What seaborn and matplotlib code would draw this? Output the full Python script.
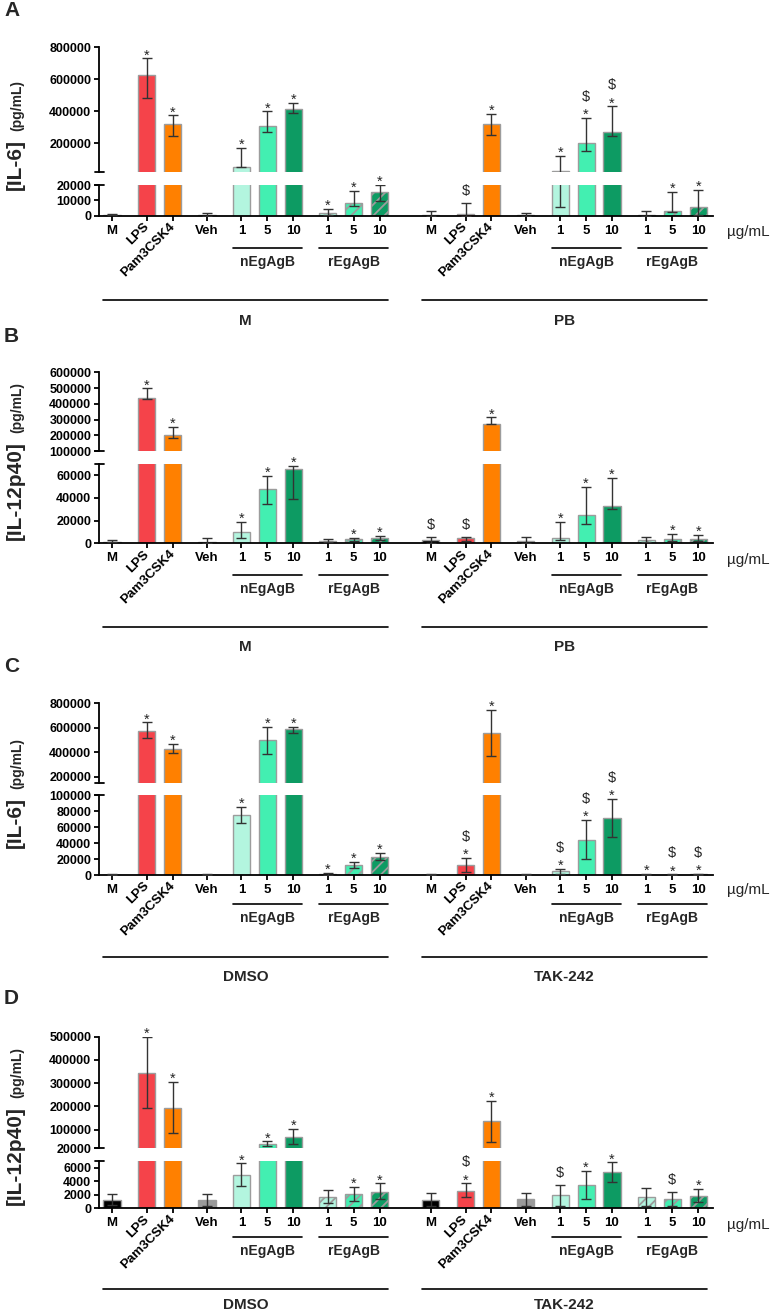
import matplotlib
matplotlib.use("Agg")
import numpy as np
import pandas as pd
import matplotlib.pyplot as plt
import matplotlib.transforms as mtransforms
from matplotlib.lines import Line2D
import seaborn as sns

# ---- categories ----
treatments = ["M", "LPS", "Pam3CSK4", "Veh", "1", "5", "10", "1", "5", "10"]
bar_colors = ["#000000", "#F5434A", "#FF8000", "#9A9A9A",
              "#B3F5DF", "#43EFB1", "#0D9B63", "#B3F5DF", "#43EFB1", "#0D9B63"]
hatched = [False] * 7 + [True] * 3

# ---- panel A : IL-6, M | PB ----
a_groups = ["M", "PB"]
a_mean = [600, 623000, 317000, 500, 50000, 308000, 412000, 1600, 8100, 15700,
          600, 1300, 321000, 400, 25000, 198000, 269000, 700, 3300, 5500]
a_low = [200, 481000, 244000, 0, 50000, 269000, 389000, 500, 6300, 9400,
         0, 0, 250000, 0, 5900, 150000, 242000, 0, 2200, 500]
a_high = [1000, 729000, 373000, 1600, 171000, 398000, 452000, 4400, 16300, 19900,
          3100, 8100, 381000, 1600, 121000, 360000, 429000, 3100, 15700, 17000]
a_sig = ["", "*", "*", "", "*", "*", "*", "*", "*", "*",
         "", "$", "*", "", "*", "*$", "*$", "", "*", "*"]

# ---- panel B : IL-12p40, M | PB ----
b_groups = ["M", "PB"]
b_mean = [1500, 435000, 200000, 1500, 10000, 47600, 65900, 2000, 3500, 4400,
          2700, 4400, 273500, 2000, 4400, 25100, 33100, 2900, 3500, 3500]
b_low = [800, 428000, 183000, 500, 4700, 34900, 38700, 1000, 2000, 2500,
         0, 2300, 270000, 500, 3200, 17100, 30000, 1000, 2300, 2000]
b_high = [2800, 498000, 254000, 4400, 19200, 59700, 68000, 4100, 5000, 6500,
          5600, 5300, 314000, 5900, 19200, 49700, 57700, 5900, 8000, 7100]
b_sig = ["", "*", "*", "", "*", "*", "*", "", "*", "*",
         "$", "$", "*", "", "*", "*", "*", "", "*", "*"]

# ---- panel C : IL-6, DMSO | TAK-242 ----
c_groups = ["DMSO", "TAK-242"]
c_mean = [500, 575000, 428000, 500, 75000, 499000, 587000, 1200, 12500, 22900,
          500, 12100, 554000, 500, 4600, 44200, 71700, 600, 400, 900]
c_low = [300, 513000, 390000, 300, 64600, 384000, 559000, 500, 8300, 18700,
         300, 4200, 371000, 300, 1250, 20000, 47900, 300, 200, 500]
c_high = [800, 644000, 469000, 800, 85400, 608000, 608000, 2500, 16700, 27900,
          800, 21200, 745000, 800, 7900, 68700, 95400, 1000, 700, 1500]
c_sig = ["", "*", "*", "", "*", "*", "*", "*", "*", "*",
         "", "*$", "*", "", "*$", "*$", "*$", "*", "*$", "*$"]

# ---- panel D : IL-12p40, DMSO | TAK-242 ----
d_groups = ["DMSO", "TAK-242"]
d_mean = [1230, 345500, 192700, 1230, 4920, 38200, 68200, 1720, 2070, 2450,
          1230, 2600, 137000, 1330, 1920, 3400, 5320, 1720, 1330, 1770]
d_low = [500, 195000, 83700, 400, 3300, 31000, 39500, 830, 1030, 1330,
         400, 1630, 48000, 400, 400, 1420, 3840, 400, 400, 890]
d_high = [2070, 499000, 304000, 2070, 6650, 49300, 102600, 2700, 3190, 3700,
          2300, 3700, 225300, 2220, 3490, 5510, 6800, 3000, 2360, 2900]
d_sig = ["", "*", "*", "", "*", "*", "*", "", "*", "*",
         "", "*$", "*", "", "$", "*", "*", "", "$", "*"]

# ---- layout (pixels of the 780 x 1314 canvas) ----
W, H = 780, 1314
X0, X1 = 99, 713
slot = [0, 1.35, 2.35, 3.67, 5.0, 6.0, 7.0, 8.33, 9.33, 10.33]
GROUP_SHIFT = 12.3
pos = np.array(slot + [s + GROUP_SHIFT for s in slot])
XLIM = (-0.5, 23.2)
BAR_W = 0.66
EDGE = "#9c9c9c"

sns.set_theme(style="ticks", rc={
    "axes.linewidth": 1.3, "axes.edgecolor": "black",
    "xtick.major.width": 1.3, "ytick.major.width": 1.3,
    "xtick.major.size": 3.5, "ytick.major.size": 3.5,
    "xtick.color": "black", "ytick.color": "black",
    "hatch.linewidth": 1.3,
})
plt.rcParams["font.family"] = ["Liberation Sans", "DejaVu Sans"]

fig = plt.figure(figsize=(W / 100, H / 100), dpi=100)


def fy(y_px):
    return 1 - y_px / H


def px_axes(top, bottom):
    return fig.add_axes([X0 / W, fy(bottom), (X1 - X0) / W, (bottom - top) / H])


def draw_bars(ax, mean, low, high, floor):
    df = pd.DataFrame({"pos": pos, "value": mean})
    sns.barplot(data=df, x="pos", y="value", native_scale=True, width=BAR_W,
                color="white", errorbar=None, ax=ax)
    for patch, c, h in zip(ax.patches, bar_colors * 2, hatched * 2):
        patch.set_facecolor(c)
        patch.set_edgecolor(EDGE)
        patch.set_linewidth(1.0)
        if h:
            patch.set_hatch("///")
    mean = np.asarray(mean, dtype=float)
    low = np.asarray(low, dtype=float)
    high = np.asarray(high, dtype=float)
    keep = high > floor   # skip whiskers that never reach this axis segment
    yerr = [mean[keep] - low[keep], high[keep] - mean[keep]]
    ax.errorbar(pos[keep], mean[keep], yerr=yerr, fmt="none", ecolor="#333333",
                elinewidth=1.0, capsize=3.6, capthick=1.0, zorder=3)
    ax.set_xlim(XLIM)
    ax.set_xlabel("")
    ax.set_ylabel("")


def mark(ax, x, y, s):
    items = {"*": [("*", -1)], "$": [("$", 8)], "*$": [("*", -1), ("$", 17)]}
    for sym, dy in items[s]:
        ax.annotate(sym, (x, y), xytext=(0, dy), textcoords="offset pixels",
                    ha="center", va="baseline", fontsize=10.5,
                    annotation_clip=False)


def draw_panel(p):
    ax_top = px_axes(*p["top_px"])
    ax_bot = px_axes(*p["bot_px"])
    draw_bars(ax_top, p["mean"], p["low"], p["high"], p["top_lim"][0])
    draw_bars(ax_bot, p["mean"], p["low"], p["high"], -1)

    ax_top.set_ylim(p["top_lim"])
    ax_top.set_yticks(p["top_ticks"])
    ax_top.set_yticklabels([f"{t:d}" for t in p["top_ticks"]],
                           fontsize=9, fontweight="bold")
    ax_bot.set_ylim(p["bot_lim"])
    ax_bot.set_yticks(p["bot_ticks"])
    ax_bot.set_yticklabels([f"{t:d}" for t in p["bot_ticks"]],
                           fontsize=9, fontweight="bold")
    ax_top.tick_params(axis="y", pad=2)
    ax_bot.tick_params(axis="y", pad=2)

    sns.despine(ax=ax_top, bottom=True)
    ax_top.tick_params(axis="x", bottom=False, labelbottom=False)
    sns.despine(ax=ax_bot)

    ax_bot.set_xticks(pos)
    ax_bot.set_xticklabels(treatments * 2, fontsize=9.5, fontweight="bold")
    ax_bot.tick_params(axis="x", pad=3)
    for i, lbl in enumerate(ax_bot.get_xticklabels()):
        if treatments[i % 10] in ("LPS", "Pam3CSK4"):
            lbl.set_rotation(45)
            lbl.set_rotation_mode("anchor")
            lbl.set_ha("right")
            lbl.set_va("center")

    # break marks on the y axis
    for y_px in (p["top_px"][1], p["bot_px"][0]):
        fig.add_artist(Line2D([(X0 - 4.5) / W, (X0 + 4.5) / W], [fy(y_px)] * 2,
                              transform=fig.transFigure, color="black", lw=1.3))

    # significance marks
    split = p["bot_lim"][1]
    for x, hi, s in zip(pos, p["high"], p["sig"]):
        if s:
            mark(ax_top if hi > split else ax_bot, x, hi, s)

    # group brackets under the axis
    trans = mtransforms.blended_transform_factory(ax_bot.transData, fig.transFigure)
    half = BAR_W / 2
    for g, name in enumerate(p["groups"]):
        off = g * 10
        for first, label in ((4, "nEgAgB"), (7, "rEgAgB")):
            x0, x1 = pos[off + first] - half, pos[off + first + 2] + half
            fig.add_artist(Line2D([x0, x1], [fy(p["short_y"])] * 2,
                                  transform=trans, color="black", lw=1.2))
            ax_bot.text(pos[off + first + 1], fy(p["short_y"] + 14), label,
                        transform=trans, ha="center", va="center",
                        fontsize=10, fontweight="bold")
        x0, x1 = pos[off] - half, pos[off + 9] + half
        fig.add_artist(Line2D([x0, x1], [fy(p["long_y"])] * 2,
                              transform=trans, color="black", lw=1.2))
        ax_bot.text((x0 + x1) / 2, fy(p["long_y"] + p["name_dy"]), name,
                    transform=trans, ha="center", va="center",
                    fontsize=11, fontweight="bold")

    fig.text(727 / W, fy(p["unit_y"]), "\u00b5g/mL", ha="left", va="center",
             fontsize=11)
    fig.text(4 / W, fy(p["letter_y"]), p["letter"], ha="left", va="center",
             fontsize=15, fontweight="bold")

    # y label: big cytokine name + smaller unit
    t1 = fig.text(21 / W, fy(p["ylab_y"]), p["ylabel"], rotation=90,
                  rotation_mode="anchor", ha="left", va="baseline",
                  fontsize=15, fontweight="bold")
    bb = t1.get_window_extent(fig.canvas.get_renderer())
    fig.text(21 / W, (bb.y1 + 8) / H, "(pg/mL)", rotation=90,
             rotation_mode="anchor", ha="left", va="baseline",
             fontsize=10, fontweight="bold")


panels = [
    dict(letter="A", letter_y=11, ylabel="[IL-6]", ylab_y=190,
         mean=a_mean, low=a_low, high=a_high, sig=a_sig, groups=a_groups,
         top_px=(47, 172), bot_px=(185, 215.7),
         top_lim=(20000, 800000), top_ticks=[200000, 400000, 600000, 800000],
         bot_lim=(0, 20000), bot_ticks=[0, 10000, 20000],
         unit_y=232, short_y=248, long_y=300, name_dy=21),
    dict(letter="B", letter_y=337, ylabel="[IL-12p40]", ylab_y=540,
         mean=b_mean, low=b_low, high=b_high, sig=b_sig, groups=b_groups,
         top_px=(372.3, 451), bot_px=(464, 543.3),
         top_lim=(100000, 600000),
         top_ticks=[100000, 200000, 300000, 400000, 500000, 600000],
         bot_lim=(0, 70000), bot_ticks=[0, 20000, 40000, 60000],
         unit_y=560, short_y=575, long_y=627, name_dy=20),
    dict(letter="C", letter_y=666, ylabel="[IL-6]", ylab_y=848,
         mean=c_mean, low=c_low, high=c_high, sig=c_sig, groups=c_groups,
         top_px=(703.3, 782.7), bot_px=(795, 875),
         top_lim=(150000, 800000), top_ticks=[200000, 400000, 600000, 800000],
         bot_lim=(0, 100000), bot_ticks=[0, 20000, 40000, 60000, 80000, 100000],
         unit_y=890, short_y=904, long_y=957, name_dy=20),
    dict(letter="D", letter_y=998, ylabel="[IL-12p40]", ylab_y=1205,
         mean=d_mean, low=d_low, high=d_high, sig=d_sig, groups=d_groups,
         top_px=(1036.7, 1148.3), bot_px=(1161, 1208.3),
         top_lim=(20000, 500000),
         top_ticks=[20000, 100000, 200000, 300000, 400000, 500000],
         bot_lim=(0, 7000), bot_ticks=[0, 2000, 4000, 6000],
         unit_y=1225, short_y=1237, long_y=1289, name_dy=16),
]

for p in panels:
    draw_panel(p)

fig.savefig("out.png", dpi=100, facecolor="white")
